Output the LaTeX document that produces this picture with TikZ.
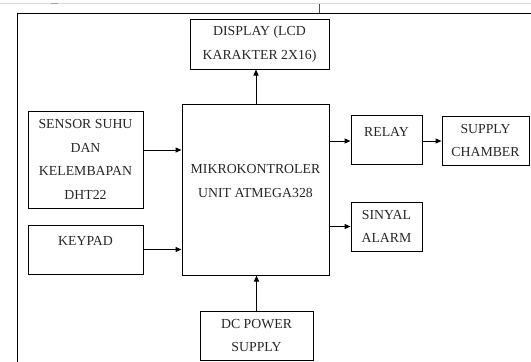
\documentclass[tikz,border=0pt]{standalone}
\usepackage{fontspec}
\setmainfont{Liberation Serif}
\usetikzlibrary{arrows.meta,calc}
\begin{document}
\begin{tikzpicture}[x=1pt,y=-1pt,
  txt/.style={align=center,font=\fontsize{13.8}{23.5}\selectfont,text=black!85},
  blk/.style={txt,draw=black,line width=1pt,rectangle,inner sep=0pt},
  arr/.style={line width=1pt,-{Triangle[length=6pt,width=5pt]}}]
\useasboundingbox (0,0) rectangle (531,362);
% page lines
\draw[black!15,line width=0.8pt] (0,3.5) -- (531,3.5);
\draw[black!35,line width=0.8pt] (51,3) -- (58,3);
\coordinate (tick) at (319,3.5);
\draw[black!70,line width=0.6pt] (tick) -- (319,13);
\draw[line width=1pt] (17.6,362) -- (17.6,13) -- (531,13);
% blocks
\node[blk,minimum width=139,minimum height=50] (disp) at (259.5,44) {DISPLAY (LCD\\KARAKTER 2X16)};
\node[blk,minimum width=147,minimum height=171] (mcu) at (255.5,189.5) {};
\node[txt] (mcut) at (255.5,181) {MIKROKONTROLER\\UNIT ATMEGA328};
\node[blk,minimum width=115,minimum height=97] (sens) at (85.5,159.5) {SENSOR SUHU\\DAN\\KELEMBAPAN\\DHT22};
\node[blk,minimum width=115,minimum height=49] (key) at (85.5,249.5) {};
\node[txt] (keyt) at (85.5,241) {KEYPAD};
\node[blk,minimum width=71,minimum height=49] (relay) at (386.5,139.5) {};
\node[txt] (relayt) at (386.5,131.5) {RELAY};
\node[blk,minimum width=87,minimum height=49] (chamb) at (485.5,140.5) {SUPPLY\\CHAMBER};
\node[blk,minimum width=71,minimum height=49] (alarm) at (386.5,226.5) {SINYAL\\ALARM};
\node[blk,minimum width=113,minimum height=49] (dc) at (256.5,335.5) {DC POWER\\SUPPLY};
% connectors
\coordinate (mtop) at ($(mcu.north)+(0.5,0)$);
\draw[arr] (mtop) -- (mtop |- disp.south);
\coordinate (s1) at ($(sens.east)+(0,-9.5)$);
\draw[arr] (s1) -- (s1 -| mcu.west);
\draw[arr] (key.east) -- (key.east -| mcu.west);
\coordinate (r1) at ($(relay.west)+(0,1.5)$);
\draw[arr] (r1 -| mcu.east) -- (r1);
\draw[arr] (r1 -| relay.east) -- (r1 -| chamb.west);
\draw[arr] (alarm.west -| mcu.east) -- (alarm.west);
\draw[arr] (dc.north) -- (dc.north |- mcu.south);
\end{tikzpicture}
\end{document}
